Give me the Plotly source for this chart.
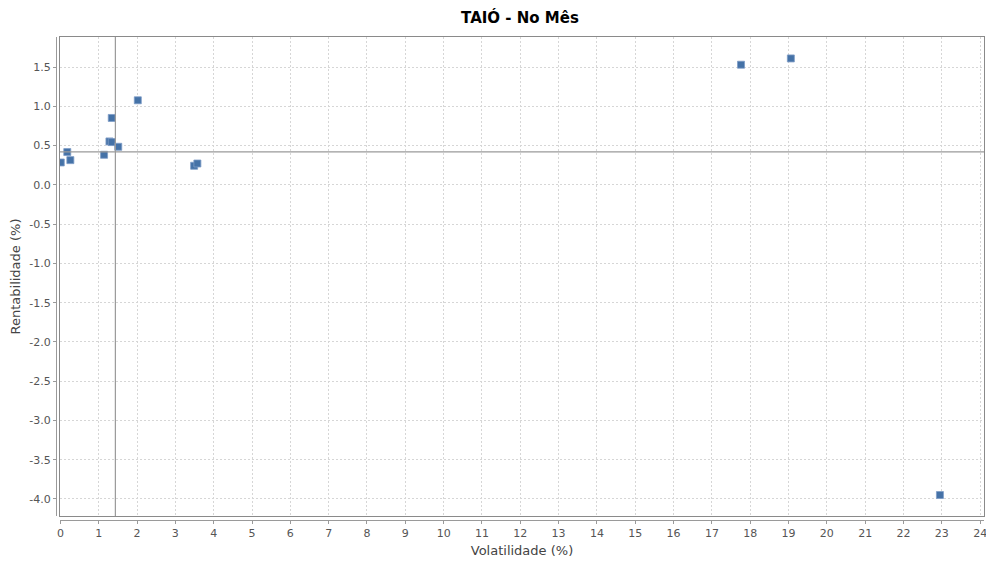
import plotly.graph_objects as go

# Data
volatilidade = [0.01, 0.18, 0.26, 1.14, 1.28, 1.34, 1.34, 1.51, 2.02, 3.49, 3.575, 17.76, 19.06, 22.95]
rentabilidade = [0.285, 0.418, 0.315, 0.383, 0.553, 0.545, 0.852, 0.485, 1.077, 0.243, 0.272, 1.53, 1.61, -3.95]
ref_x = 1.435
ref_y = 0.421
x_range = [-0.01, 24.1]
y_range = [-4.217, 1.883]
x_ticks = list(range(0, 25))
x_tick_labels = [str(v) for v in x_ticks]
y_ticks = [1.5, 1.0, 0.5, 0.0, -0.5, -1.0, -1.5, -2.0, -2.5, -3.0, -3.5, -4.0]
y_tick_labels = ["1.5", "1.0", "0.5", "0.0", "-0.5", "-1.0", "-1.5", "-2.0", "-2.5", "-3.0", "-3.5", "-4.0"]

W, H = 986, 563
ml, mr, mt, mb = 56, 2, 37, 43
pw = W - ml - mr
ph = H - mt - mb
xd0 = 4 / pw
yd0 = 4 / ph

fig = go.Figure()
fig.add_trace(go.Scatter(
    x=volatilidade, y=rentabilidade, mode="markers",
    marker=dict(symbol="square", size=7, color="#4572A7",
                line=dict(color="#7d9cc6", width=0.8)),
    showlegend=False, hoverinfo="x+y",
))

grid = dict(showgrid=True, gridcolor="#d6d6d6", griddash="2px,2px", gridwidth=1,
            zeroline=False, showline=True, mirror=True, linecolor="#8a8a8a",
            linewidth=1, showticklabels=False, ticks="", automargin=False)
tickfont = dict(family="DejaVu Sans", size=11, color="#555555")
titlefont = dict(family="DejaVu Sans", size=13, color="#444444")

fig.update_layout(
    width=W, height=H,
    margin=dict(l=ml, r=mr, t=mt, b=mb, autoexpand=False),
    paper_bgcolor="white", plot_bgcolor="white",
    title=dict(text="<b>TAIÓ - No Mês</b>", x=0.5, xref="paper", xanchor="center",
               y=1 - 18 / H, yanchor="middle",
               font=dict(family="DejaVu Sans", size=15, color="#000000")),
    xaxis=dict(domain=[xd0, 1], range=x_range, tickmode="array", tickvals=x_ticks,
               anchor="y", **grid),
    yaxis=dict(domain=[yd0, 1], range=y_range, tickmode="array", tickvals=y_ticks,
               anchor="x", **grid),
    xaxis2=dict(overlaying="x", matches="x", anchor="free", position=0, range=x_range,
                tickmode="array", tickvals=x_ticks, ticktext=x_tick_labels,
                showgrid=False, zeroline=False, showline=True, automargin=False,
                ticklabeloverflow="allow",
                linecolor="#9a9a9a", linewidth=1, ticks="outside", ticklen=3,
                tickcolor="#9a9a9a", tickfont=tickfont,
                title=dict(text="Volatilidade (%)", font=titlefont, standoff=6)),
    yaxis2=dict(overlaying="y", matches="y", anchor="free", position=0, range=y_range,
                tickmode="array", tickvals=y_ticks, ticktext=y_tick_labels,
                showgrid=False, zeroline=False, automargin=False,
                ticklabeloverflow="allow",
                showline=True, linecolor="#9a9a9a", linewidth=1, ticks="outside",
                ticklen=3, tickcolor="#9a9a9a", tickfont=tickfont, side="left",
                title=dict(text="Rentabilidade (%)", font=titlefont, standoff=4)),
    shapes=[
        dict(type="line", xref="x", yref="y domain", x0=ref_x, x1=ref_x, y0=0, y1=1,
             line=dict(color="#9a9a9a", width=1.2)),
        dict(type="line", xref="x domain", yref="y", x0=0, x1=1, y0=ref_y, y1=ref_y,
             line=dict(color="#9a9a9a", width=1.2)),
    ],
)

fig.add_trace(go.Scatter(x=[None], y=[None], xaxis="x2", yaxis="y2", showlegend=False, hoverinfo="skip"))

fig.write_html("out.html", config={"displayModeBar": False},
               post_script="document.body.style.margin='0';document.body.style.padding='0';")
